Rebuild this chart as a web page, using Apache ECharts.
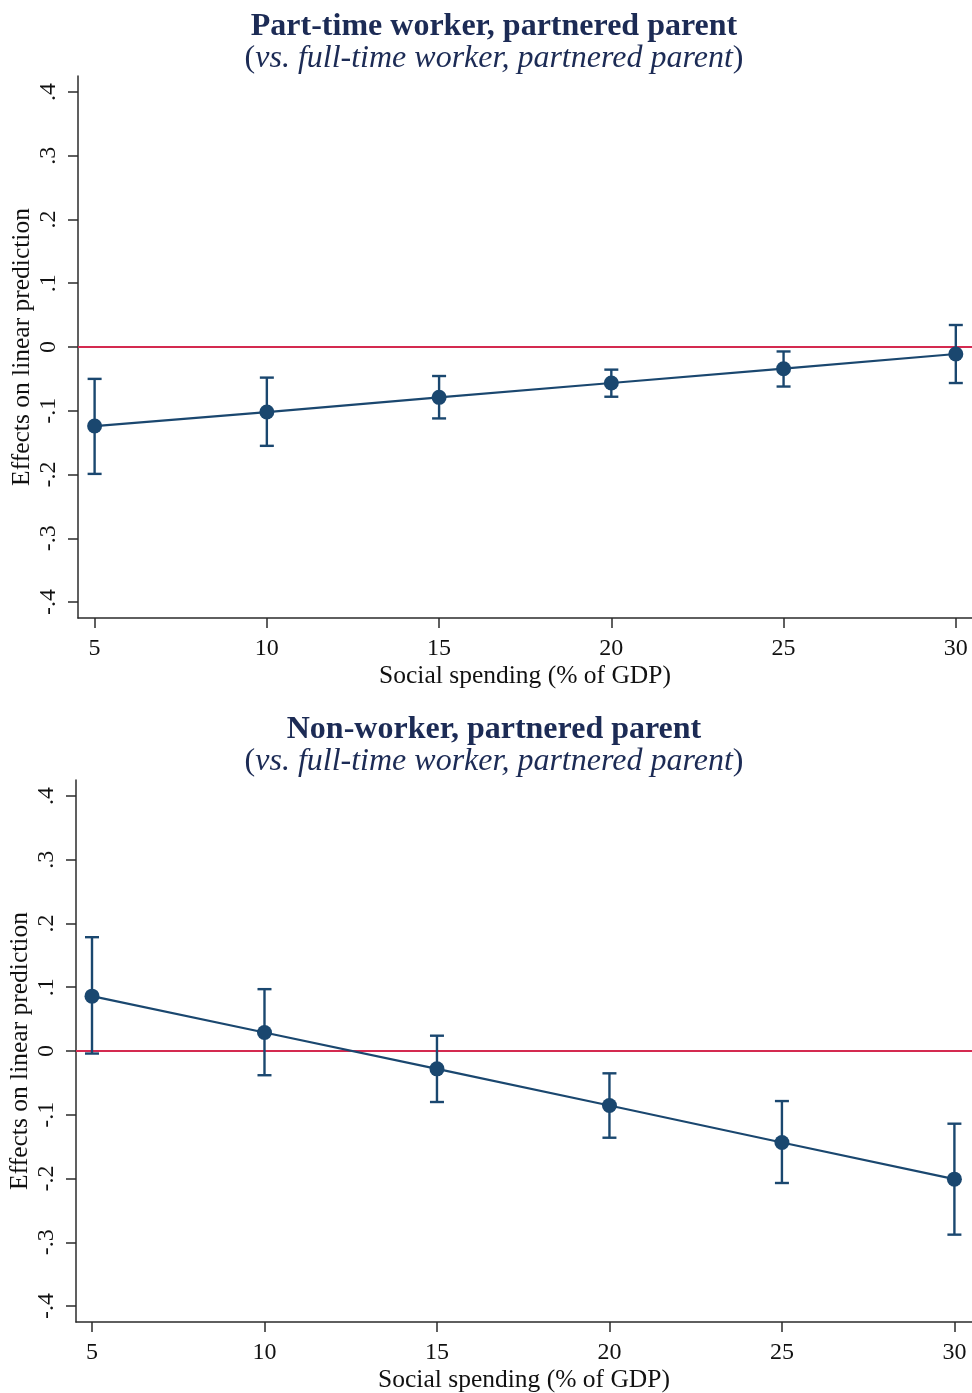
<!DOCTYPE html>
<html>
<head>
<meta charset="utf-8">
<script src="https://cdn.jsdelivr.net/npm/echarts@6/dist/echarts.min.js"></script>
<style>
html,body{margin:0;padding:0;background:#fff;}
#chart{width:972px;height:1393px;}
</style>
</head>
<body>
<div id="chart"></div>
<script>
// ---- data ----
const spending = [5, 10, 15, 20, 25, 30];

const partTimeEffect = [-0.124, -0.102, -0.079, -0.0565, -0.034, -0.011];
const partTimeLow    = [-0.199, -0.155, -0.112, -0.078, -0.062, -0.0565];
const partTimeHigh   = [-0.050, -0.048, -0.0455, -0.0355, -0.007, 0.0345];

const nonWorkerEffect = [0.086, 0.029, -0.028, -0.0855, -0.1435, -0.201];
const nonWorkerLow    = [-0.004, -0.038, -0.080, -0.136, -0.207, -0.288];
const nonWorkerHigh   = [0.1785, 0.097, 0.024, -0.035, -0.0785, -0.114];

const xTicks = [5, 10, 15, 20, 25, 30];
const yTicks = [-0.4, -0.3, -0.2, -0.1, 0, 0.1, 0.2, 0.3, 0.4];

const titles = ['Part-time worker, partnered parent', 'Non-worker, partnered parent'];
const subtitleItalic = 'vs. full-time worker, partnered parent';
const xName = 'Social spending (% of GDP)';
const yName = 'Effects on linear prediction';

// ---- styling ----
const NAVY = '#1a476f';
const RED = '#d42a50';
const AXIS = '#2b2b2b';
const TITLE = '#1c2b55';
const FONT = '"Liberation Serif","DejaVu Serif",serif';

function fmtY(v) {
  const r = Math.round(v * 10) / 10;
  if (r === 0) return '0';
  const s = Math.abs(r).toFixed(1).replace(/^0/, '');
  return (r < 0 ? '-' : '') + s;
}

function xAxisFor(gi, min, max) {
  return {
    type: 'value', gridIndex: gi, min: min, max: max,
    name: xName, nameLocation: 'middle', nameGap: 45, nameMoveOverlap: false,
    nameTextStyle: {fontFamily: FONT, fontSize: 25.5, color: '#111'},
    axisLine: {show: true, onZero: false, lineStyle: {color: AXIS, width: 1.5}},
    axisTick: {show: true, length: 10, customValues: xTicks, lineStyle: {color: AXIS, width: 1.5}},
    axisLabel: {customValues: xTicks, margin: 19, fontFamily: FONT, fontSize: 24, color: '#111'},
    splitLine: {show: false}
  };
}
function yAxisFor(gi) {
  return {
    type: 'value', gridIndex: gi, min: -0.425, max: 0.425,
    name: yName, nameLocation: 'middle', nameGap: 43, nameMoveOverlap: false,
    nameTextStyle: {fontFamily: FONT, fontSize: 25.5, color: '#111'},
    axisLine: {show: true, onZero: false, lineStyle: {color: AXIS, width: 1.5}},
    axisTick: {show: true, length: 10, customValues: yTicks, lineStyle: {color: AXIS, width: 1.5}},
    axisLabel: {customValues: yTicks, rotate: 90, margin: 17, formatter: fmtY,
                fontFamily: FONT, fontSize: 24, color: '#111'},
    splitLine: {show: false}
  };
}

function errorSeries(gi, low, high) {
  return {
    type: 'custom', xAxisIndex: gi, yAxisIndex: gi, z: 3,
    data: spending.map((x, i) => [x, low[i], high[i]]),
    renderItem: function (params, api) {
      const x = api.value(0);
      const lo = api.coord([x, api.value(1)]);
      const hi = api.coord([x, api.value(2)]);
      const cap = 7;
      const style = {stroke: NAVY, lineWidth: 2.4, fill: null};
      return {
        type: 'group',
        children: [
          {type: 'line', shape: {x1: lo[0], y1: lo[1], x2: hi[0], y2: hi[1]}, style: style},
          {type: 'line', shape: {x1: lo[0] - cap, y1: lo[1], x2: lo[0] + cap, y2: lo[1]}, style: style},
          {type: 'line', shape: {x1: hi[0] - cap, y1: hi[1], x2: hi[0] + cap, y2: hi[1]}, style: style}
        ]
      };
    }
  };
}

function lineSeries(gi, vals) {
  return {
    type: 'line', xAxisIndex: gi, yAxisIndex: gi, z: 4,
    data: spending.map((x, i) => [x, vals[i]]),
    symbol: 'circle', symbolSize: 15,
    itemStyle: {color: NAVY},
    lineStyle: {color: NAVY, width: 2.2},
    animation: false,
    markLine: {
      silent: true, symbol: 'none', z: 1,
      label: {show: false},
      lineStyle: {color: RED, width: 2, type: 'solid'},
      data: [{yAxis: 0}]
    }
  };
}

function titleFor(i, top) {
  return {
    text: titles[i],
    subtext: '{n|(}{i|' + subtitleItalic + '}{n|)}',
    left: 489, top: top, textAlign: 'center', itemGap: 0,
    textStyle: {fontFamily: FONT, fontWeight: 'bold', fontSize: 32, color: TITLE},
    subtextStyle: {
      fontFamily: FONT, fontSize: 32, color: TITLE,
      rich: {
        n: {fontFamily: FONT, fontSize: 32, color: TITLE},
        i: {fontFamily: FONT, fontSize: 32, color: TITLE, fontStyle: 'italic'}
      }
    }
  };
}

const chart = echarts.init(document.getElementById('chart'), null, {renderer: 'canvas'});
chart.setOption({
  backgroundColor: '#fff',
  animation: false,
  title: [titleFor(0, 6), titleFor(1, 709)],
  grid: [
    {left: 78, top: 76, width: 894, height: 542, containLabel: false, outerBoundsMode: 'none'},
    {left: 76, top: 780, width: 896, height: 542, containLabel: false, outerBoundsMode: 'none'}
  ],
  xAxis: [xAxisFor(0, 4.518, 30.47), xAxisFor(1, 4.536, 30.51)],
  yAxis: [yAxisFor(0), yAxisFor(1)],
  series: [
    errorSeries(0, partTimeLow, partTimeHigh),
    lineSeries(0, partTimeEffect),
    errorSeries(1, nonWorkerLow, nonWorkerHigh),
    lineSeries(1, nonWorkerEffect)
  ]
});
</script>
</body>
</html>
